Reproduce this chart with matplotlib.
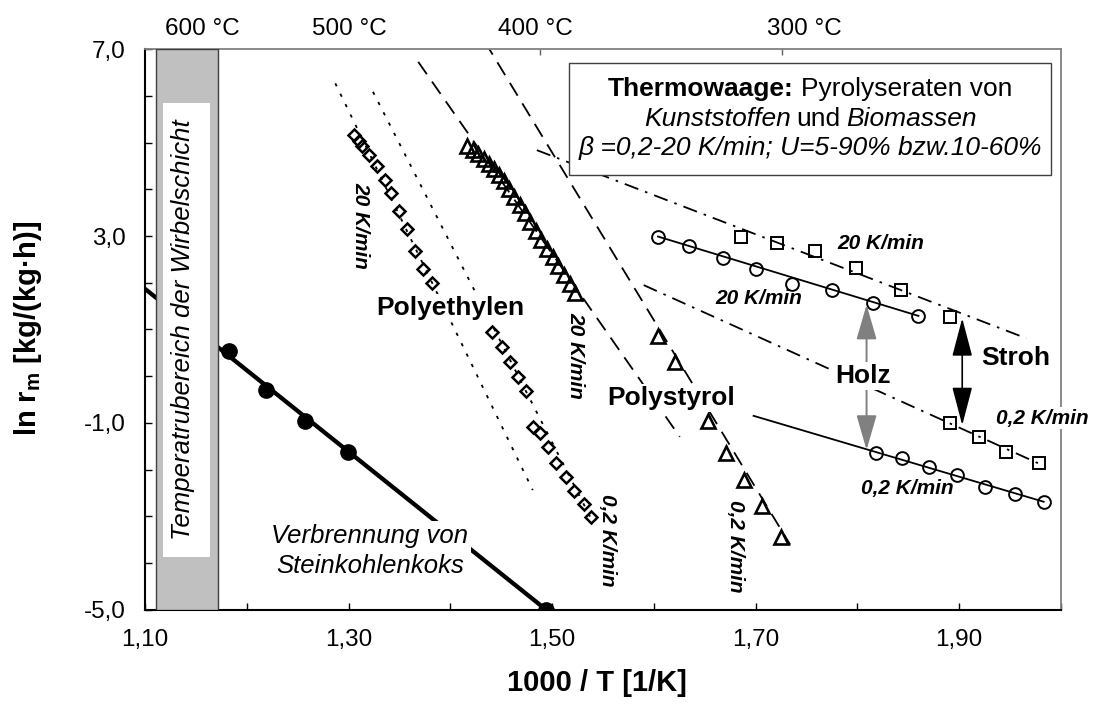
import matplotlib
matplotlib.use('Agg')
import matplotlib.pyplot as plt
from matplotlib.patches import Rectangle
from matplotlib.transforms import blended_transform_factory
from matplotlib.offsetbox import TextArea, HPacker, VPacker, AnchoredOffsetbox

plt.rcParams['font.family'] = ['Liberation Sans', 'DejaVu Sans']

# Verbrennung von Steinkohlenkoks
coal_x = [1.183, 1.219, 1.257, 1.299, 1.494]
coal_y = [0.54, -0.30, -0.96, -1.62, -5.0]
coal_fit_x = [1.10, 1.494]
coal_fit_y = [1.87, -5.0]

# Polyethylen (diamonds)
pe20_x = [1.305, 1.310, 1.313, 1.320, 1.328, 1.336, 1.342, 1.350, 1.357, 1.365, 1.373, 1.382]
pe20_y = [5.17, 5.04, 4.93, 4.74, 4.49, 4.20, 3.92, 3.54, 3.15, 2.69, 2.29, 1.99]
pe20_fit_x = [1.287, 1.481]
pe20_fit_y = [6.27, -2.44]
pe02_x = [1.441, 1.451, 1.459, 1.467, 1.474, 1.481, 1.488, 1.496, 1.504, 1.514, 1.522, 1.531, 1.538]
pe02_y = [0.94, 0.63, 0.30, -0.01, -0.31, -1.08, -1.22, -1.51, -1.87, -2.17, -2.45, -2.74, -3.01]
pe02_fit_x = [1.324, 1.539]
pe02_fit_y = [6.09, -3.08]

# Polystyrol (triangles)
ps20_x = [1.416, 1.422, 1.427, 1.433, 1.438, 1.443, 1.448, 1.453, 1.458, 1.463, 1.468,
          1.473, 1.478, 1.484, 1.489, 1.495, 1.501, 1.506, 1.512, 1.518, 1.523]
ps20_y = [4.93, 4.84, 4.75, 4.65, 4.54, 4.43, 4.31, 4.17, 4.00, 3.83, 3.66,
          3.49, 3.30, 3.10, 2.92, 2.73, 2.55, 2.36, 2.17, 1.98, 1.78]
ps20_fit_x = [1.3685, 1.6255]
ps20_fit_y = [6.73, -1.30]
ps02_x = [1.604, 1.621, 1.653, 1.671, 1.689, 1.706, 1.725]
ps02_y = [0.85, 0.31, -0.97, -1.65, -2.22, -2.79, -3.44]
ps02_fit_x = [1.434, 1.734]
ps02_fit_y = [7.16, -3.61]

# Holz (circles) and Stroh (squares)
holz20_x = [1.604, 1.635, 1.668, 1.700, 1.736, 1.775, 1.815, 1.860]
holz20_y = [2.99, 2.79, 2.53, 2.29, 1.97, 1.85, 1.56, 1.29]
holz20_fit_x = [1.604, 1.860]
holz20_fit_y = [2.99, 1.29]
holz02_x = [1.818, 1.844, 1.870, 1.898, 1.925, 1.955, 1.983]
holz02_y = [-1.65, -1.76, -1.94, -2.12, -2.37, -2.52, -2.69]
holz02_fit_x = [1.698, 1.983]
holz02_fit_y = [-0.85, -2.69]
stroh20_x = [1.686, 1.721, 1.758, 1.799, 1.843, 1.891]
stroh20_y = [2.99, 2.85, 2.69, 2.31, 1.85, 1.27]
stroh20_fit_x = [1.485, 1.966]
stroh20_fit_y = [4.84, 0.81]
stroh02_x = [1.891, 1.919, 1.946, 1.978]
stroh02_y = [-1.01, -1.30, -1.62, -1.87]
stroh02_fit_x = [1.590, 1.978]
stroh02_fit_y = [1.95, -1.87]

# spread between 20 K/min and 0,2 K/min
holz_arrow_x, holz_arrow_y = 1.809, (1.53, -1.58)
stroh_arrow_x, stroh_arrow_y = 1.903, (1.24, -1.05)

# axes ticks
x_major = [1.10, 1.30, 1.50, 1.70, 1.90]
x_major_labels = ['1,10', '1,30', '1,50', '1,70', '1,90']
x_minor = [1.20, 1.40, 1.60, 1.80, 2.00]
y_major = [-5, -1, 3, 7]
y_major_labels = ['-5,0', '-1,0', '3,0', '7,0']
y_minor = [-4, -3, -2, 0, 1, 2, 4, 5, 6]

# temperature scale on top
top_tick_x = [1.145, 1.488, 1.726]
top_label_x = [1.156, 1.301, 1.484, 1.748]
top_labels = ['600 °C', '500 °C', '400 °C', '300 °C']

# temperature range of the fluidised bed
bed_range = (1.1112, 1.1717)

fig = plt.figure(figsize=(10.95, 7.10), dpi=100)
ax = fig.add_axes([0.1324, 0.1414, 0.8365, 0.7892])
ax.set_xlim(1.10, 2.00)
ax.set_ylim(-5, 7)

dotted = (0, (1.8, 4.6))
dashed = (0, (8.3, 5.0))
dashdot = (0, (8.0, 4.0, 1.4, 4.0))
thin = 1.3

# fit lines
ax.plot(coal_fit_x, coal_fit_y, color='black', lw=3.1, zorder=2, solid_capstyle='butt')
ax.plot(pe20_fit_x, pe20_fit_y, color='black', lw=thin, ls=dotted, zorder=2)
ax.plot(pe02_fit_x, pe02_fit_y, color='black', lw=thin, ls=dotted, zorder=2)
ax.plot(ps20_fit_x, ps20_fit_y, color='black', lw=thin, ls=dashed, zorder=2)
ax.plot(ps02_fit_x, ps02_fit_y, color='black', lw=thin, ls=dashed, zorder=2)
ax.plot(holz20_fit_x, holz20_fit_y, color='black', lw=thin, zorder=2)
ax.plot(holz02_fit_x, holz02_fit_y, color='black', lw=thin, zorder=2)
ax.plot(stroh20_fit_x, stroh20_fit_y, color='black', lw=thin, ls=dashdot, zorder=2)
ax.plot(stroh02_fit_x, stroh02_fit_y, color='black', lw=thin, ls=dashdot, zorder=2)

# measured points
mk = dict(ls='none', mfc='none', mec='black', zorder=3)
ax.plot(coal_x, coal_y, ls='none', marker='o', ms=11, mfc='black', mec='black', zorder=3)
ax.plot(pe20_x, pe20_y, marker='D', ms=6, mew=1.8, **mk)
ax.plot(pe02_x, pe02_y, marker='D', ms=6, mew=1.8, **mk)
ax.plot(ps20_x, ps20_y, marker='^', ms=9.5, mew=1.9, **mk)
ax.plot(ps02_x, ps02_y, marker='^', ms=9.5, mew=1.9, **mk)
ax.plot(holz20_x, holz20_y, marker='o', ms=9.2, mew=1.4, **mk)
ax.plot(holz02_x, holz02_y, marker='o', ms=9.2, mew=1.4, **mk)
ax.plot(stroh20_x, stroh20_y, marker='s', ms=9.2, mew=1.4, **mk)
ax.plot(stroh02_x, stroh02_y, marker='s', ms=9.2, mew=1.4, **mk)

# arrows Holz / Stroh
ax.annotate('', xy=(holz_arrow_x, holz_arrow_y[0]), xytext=(holz_arrow_x, holz_arrow_y[1]),
            arrowprops=dict(arrowstyle='<|-|>,head_length=1.45,head_width=0.42', mutation_scale=15,
                            color='#808080', lw=1.4, shrinkA=0, shrinkB=0), zorder=4)
ax.annotate('', xy=(stroh_arrow_x, stroh_arrow_y[0]), xytext=(stroh_arrow_x, stroh_arrow_y[1]),
            arrowprops=dict(arrowstyle='<|-|>,head_length=1.6,head_width=0.42', mutation_scale=15,
                            color='black', lw=1.2, shrinkA=0, shrinkB=0), zorder=4)

# fluidised bed band
ax.axvspan(bed_range[0], bed_range[1], fc='#c0c0c0', ec='#404040', lw=1.0, zorder=5)
ax.add_patch(Rectangle((1.1177, -3.88), 0.0462, 9.72, fc='white', ec='none', zorder=6))
ax.text(1.1373, 0.99, 'Temperatrubereich der Wirbelschicht', rotation=90, style='italic',
        fontsize=18.5, ha='center', va='center', zorder=7)

white = dict(fc='white', ec='none', pad=1.5)
bold = dict(fontsize=19, fontweight='bold', ha='center', va='center', zorder=7, bbox=white)
ax.text(1.400, 1.46, 'Polyethylen', **bold)
ax.text(1.6165, -0.47, 'Polystyrol', **bold)
ax.text(1.806, 0.0, 'Holz', **bold)
ax.text(1.956, 0.38, 'Stroh', fontsize=19, fontweight='bold', ha='center', va='center', zorder=7)

rate = dict(fontsize=15, fontweight='bold', style='italic', ha='center', va='center', zorder=7)
ax.text(1.312, 3.22, '20 K/min', rotation=270, **rate)
ax.text(1.523, 0.44, '20 K/min', rotation=270, **rate)
ax.text(1.554, -3.51, '0,2 K/min', rotation=270, **rate)
ax.text(1.680, -3.65, '0,2 K/min', rotation=270, **rate)
ax.text(1.823, 2.85, '20 K/min', **rate)
ax.text(1.703, 1.67, '20 K/min', **rate)
ax.text(1.849, -2.40, '0,2 K/min', **rate)
ax.text(1.982, -0.90, '0,2 K/min', bbox=dict(fc='white', ec='none', pad=1), clip_on=False, **rate)

ax.text(1.321, -3.74, 'Verbrennung von\nSteinkohlenkoks', style='italic', fontsize=18.5,
        ha='center', va='center', linespacing=1.3, zorder=7, bbox=dict(fc='white', ec='none', pad=2))

# info box
ax.add_patch(Rectangle((0.463, 0.7765), 0.526, 0.1985, transform=ax.transAxes,
                       fc='white', ec='#404040', lw=1.0, zorder=8))
fs = 19
line1 = HPacker(children=[TextArea('Thermowaage:', textprops=dict(fontsize=fs, fontweight='bold')),
                          TextArea('Pyrolyseraten von', textprops=dict(fontsize=fs))],
                align='baseline', pad=0, sep=5)
line2 = HPacker(children=[TextArea('Kunststoffen', textprops=dict(fontsize=fs, style='italic')),
                          TextArea('und', textprops=dict(fontsize=fs)),
                          TextArea('Biomassen', textprops=dict(fontsize=fs, style='italic'))],
                align='baseline', pad=0, sep=4)
line3 = TextArea('\u03b2 =0,2-20 K/min; U=5-90% bzw.10-60%', textprops=dict(fontsize=fs, style='italic'))
info = VPacker(children=[line1, line2, line3], align='center', pad=0, sep=4)
anchored = AnchoredOffsetbox(loc='center', child=info, pad=0, borderpad=0, frameon=False,
                             bbox_to_anchor=(0.726, 0.876), bbox_transform=ax.transAxes)
anchored.set_zorder(9)
ax.add_artist(anchored)

# axes styling
ax.set_xticks(x_major)
ax.set_xticklabels(x_major_labels)
ax.set_xticks(x_minor, minor=True)
ax.set_yticks(y_major)
ax.set_yticklabels(y_major_labels)
ax.set_yticks(y_minor, minor=True)
ax.tick_params(which='both', direction='in', length=5, width=1.0, top=False, right=False)
ax.tick_params(which='major', labelsize=17.5, pad=14)
for side in ['left', 'bottom']:
    ax.spines[side].set_linewidth(1.5)
for side in ['top', 'right']:
    ax.spines[side].set_color('#808080')
    ax.spines[side].set_linewidth(1.3)

top = ax.secondary_xaxis('top')
top.set_xticks(top_tick_x)
top.set_xticklabels([])
top.tick_params(direction='in', length=4, width=1.0, color='#606060')
top.spines['top'].set_visible(False)
trans = blended_transform_factory(ax.transData, ax.transAxes)
for lx, lab in zip(top_label_x, top_labels):
    ax.text(lx, 1.037, lab, transform=trans, fontsize=17.5, ha='center', va='center', clip_on=False)

fig.text(0.026, 0.538, r'ln r$_\mathregular{m}$ [kg/(kg·h)]', rotation=90, fontsize=21,
         fontweight='bold', ha='center', va='center')
fig.text(0.545, 0.038, '1000 / T [1/K]', fontsize=21, fontweight='bold', ha='center', va='center')

fig.savefig('out.png', dpi=100)
